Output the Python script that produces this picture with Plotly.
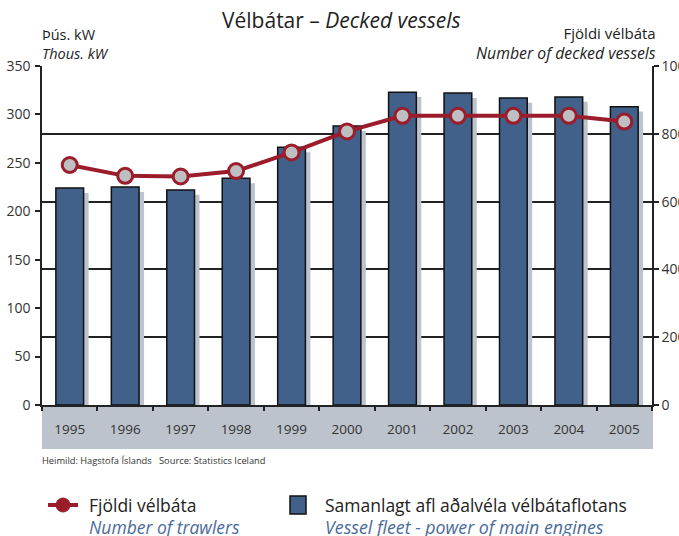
import plotly.graph_objects as go

years = ["1995", "1996", "1997", "1998", "1999", "2000", "2001", "2002", "2003", "2004", "2005"]
power_kw = [224, 225, 222, 234, 266, 288, 323, 322, 317, 318, 308]   # thous. kW (left axis)
vessels = [708, 676, 674, 690, 745, 807, 853, 853, 853, 853, 836]    # number of vessels (right axis)
left_ticks = [0, 50, 100, 150, 200, 250, 300, 350]
right_ticks = [0, 200, 400, 600, 800, 1000]

W, H = 679, 536
L, R, T, B = 42, 652, 66, 405   # plot area in pixels
FONT = "Open Sans"
BAR = "#41608a"
SHADOW = "#bcc3cc"
RED = "#9b1c2a"
BLUE_TXT = "#4a6a9a"


def px(x):
    return (x - L) / (R - L)


def py(y):
    return (B - y) / (B - T)


fig = go.Figure()

# shadow bars (drawn from the same values, shifted)
fig.add_trace(go.Bar(
    x=years, y=power_kw, base=-5, width=0.5, offset=-0.16,
    marker=dict(color=SHADOW, line=dict(width=0)),
    yaxis="y", showlegend=False, hoverinfo="skip"))

fig.add_trace(go.Bar(
    x=years, y=power_kw, width=0.5, offset=-0.25,
    marker=dict(color=BAR, line=dict(color="#111111", width=1.5)),
    yaxis="y", name="Samanlagt afl aðalvéla vélbátaflotans", showlegend=False))

fig.add_trace(go.Scatter(
    x=years, y=vessels, yaxis="y2", mode="lines+markers",
    line=dict(color=RED, width=4),
    marker=dict(size=15, color="#bdbfc2", line=dict(color=RED, width=3)),
    name="Fjöldi vélbáta", showlegend=False))

shapes = [
    # grey year band
    dict(type="rect", xref="paper", yref="paper", x0=0, x1=px(653), y0=py(449), y1=0,
         fillcolor=SHADOW, line=dict(width=0), layer="below"),
    # legend: line icon
    dict(type="line", xref="paper", yref="paper", x0=px(48), x1=px(78), y0=py(505), y1=py(505),
         line=dict(color=RED, width=4)),
    dict(type="circle", xref="paper", yref="paper", x0=px(56), x1=px(70), y0=py(512), y1=py(498),
         fillcolor=RED, line=dict(color=RED, width=1)),
    # legend: square
    dict(type="rect", xref="paper", yref="paper", x0=px(290), x1=px(306), y0=py(514), y1=py(496),
         fillcolor=BAR, line=dict(color="#111111", width=1.5)),
]

annotations = [
    dict(text="Vélbátar – <i>Decked vessels</i>", x=px(341), y=py(20), xref="paper", yref="paper",
         showarrow=False, xanchor="center", yanchor="middle", font=dict(size=21, color="#222")),
    dict(text="Þús. kW<br><i>Thous. kW</i>", x=px(40), y=py(44), xref="paper", yref="paper",
         showarrow=False, xanchor="left", yanchor="middle", align="left",
         font=dict(size=14.5, color="#222")),
    dict(text="Fjöldi vélbáta<br><i><span style='font-size:15.8px'>Number of decked vessels</span></i>",
         x=px(658), y=py(44), xref="paper", yref="paper",
         showarrow=False, xanchor="right", yanchor="middle", align="right",
         font=dict(size=15, color="#222")),
    dict(text="Heimild: Hagstofa Íslands&nbsp;&nbsp;&nbsp;Source: Statistics Iceland", x=px(40), y=py(460),
         xref="paper", yref="paper", showarrow=False, xanchor="left", yanchor="middle",
         font=dict(size=9.3, color="#333")),
    dict(text="Fjöldi vélbáta", x=px(87), y=py(505), xref="paper", yref="paper", showarrow=False,
         xanchor="left", yanchor="middle", font=dict(size=17.5, color="#222")),
    dict(text="<i>Number of trawlers</i>", x=px(87), y=py(527), xref="paper", yref="paper", showarrow=False,
         xanchor="left", yanchor="middle", font=dict(size=17.5, color=BLUE_TXT)),
    dict(text="Samanlagt afl aðalvéla vélbátaflotans", x=px(323), y=py(505), xref="paper", yref="paper",
         showarrow=False, xanchor="left", yanchor="middle", font=dict(size=17.5, color="#222")),
    dict(text="<i>Vessel fleet - power of main engines</i>", x=px(323), y=py(527), xref="paper", yref="paper",
         showarrow=False, xanchor="left", yanchor="middle", font=dict(size=17.8, color=BLUE_TXT)),
]

fig.update_layout(
    width=W, height=H,
    margin=dict(l=L, r=W - R, t=T, b=H - B, pad=0, autoexpand=False),
    paper_bgcolor="white", plot_bgcolor="white",
    font=dict(family=FONT, color="#333"),
    barmode="overlay", bargap=0.5,
    shapes=shapes, annotations=annotations,
    xaxis=dict(type="category", range=[-0.5, 10.5], showgrid=False, automargin=False,
               showline=True, linecolor="#222", linewidth=1.5,
               ticks="outside", tickson="boundaries", ticklen=4, tickcolor="#222", tickwidth=1.5,
               ticklabelstandoff=11, tickfont=dict(size=13.5, color="#333")),
    yaxis=dict(range=[0, 350], tickvals=left_ticks, showgrid=False, zeroline=False, automargin=False,
               showline=True, linecolor="#222", linewidth=1.5,
               ticks="outside", ticklen=5, tickcolor="#222", tickwidth=1.5, ticklabelstandoff=2,
               tickfont=dict(size=14, color="#333")),
    yaxis2=dict(range=[0, 1000], tickvals=right_ticks, overlaying="y", side="right", automargin=False,
                showgrid=True, gridcolor="#222", gridwidth=1.5, zeroline=False,
                showline=True, linecolor="#222", linewidth=1.5,
                ticks="outside", ticklen=5, tickcolor="#222", tickwidth=1.5,
                tickfont=dict(size=14, color="#333")),
)

# remove the default page margin so the figure sits at the window's top-left corner
fig.write_html("out.html", config={"displayModeBar": False},
               post_script="document.body.style.margin='0px';")
